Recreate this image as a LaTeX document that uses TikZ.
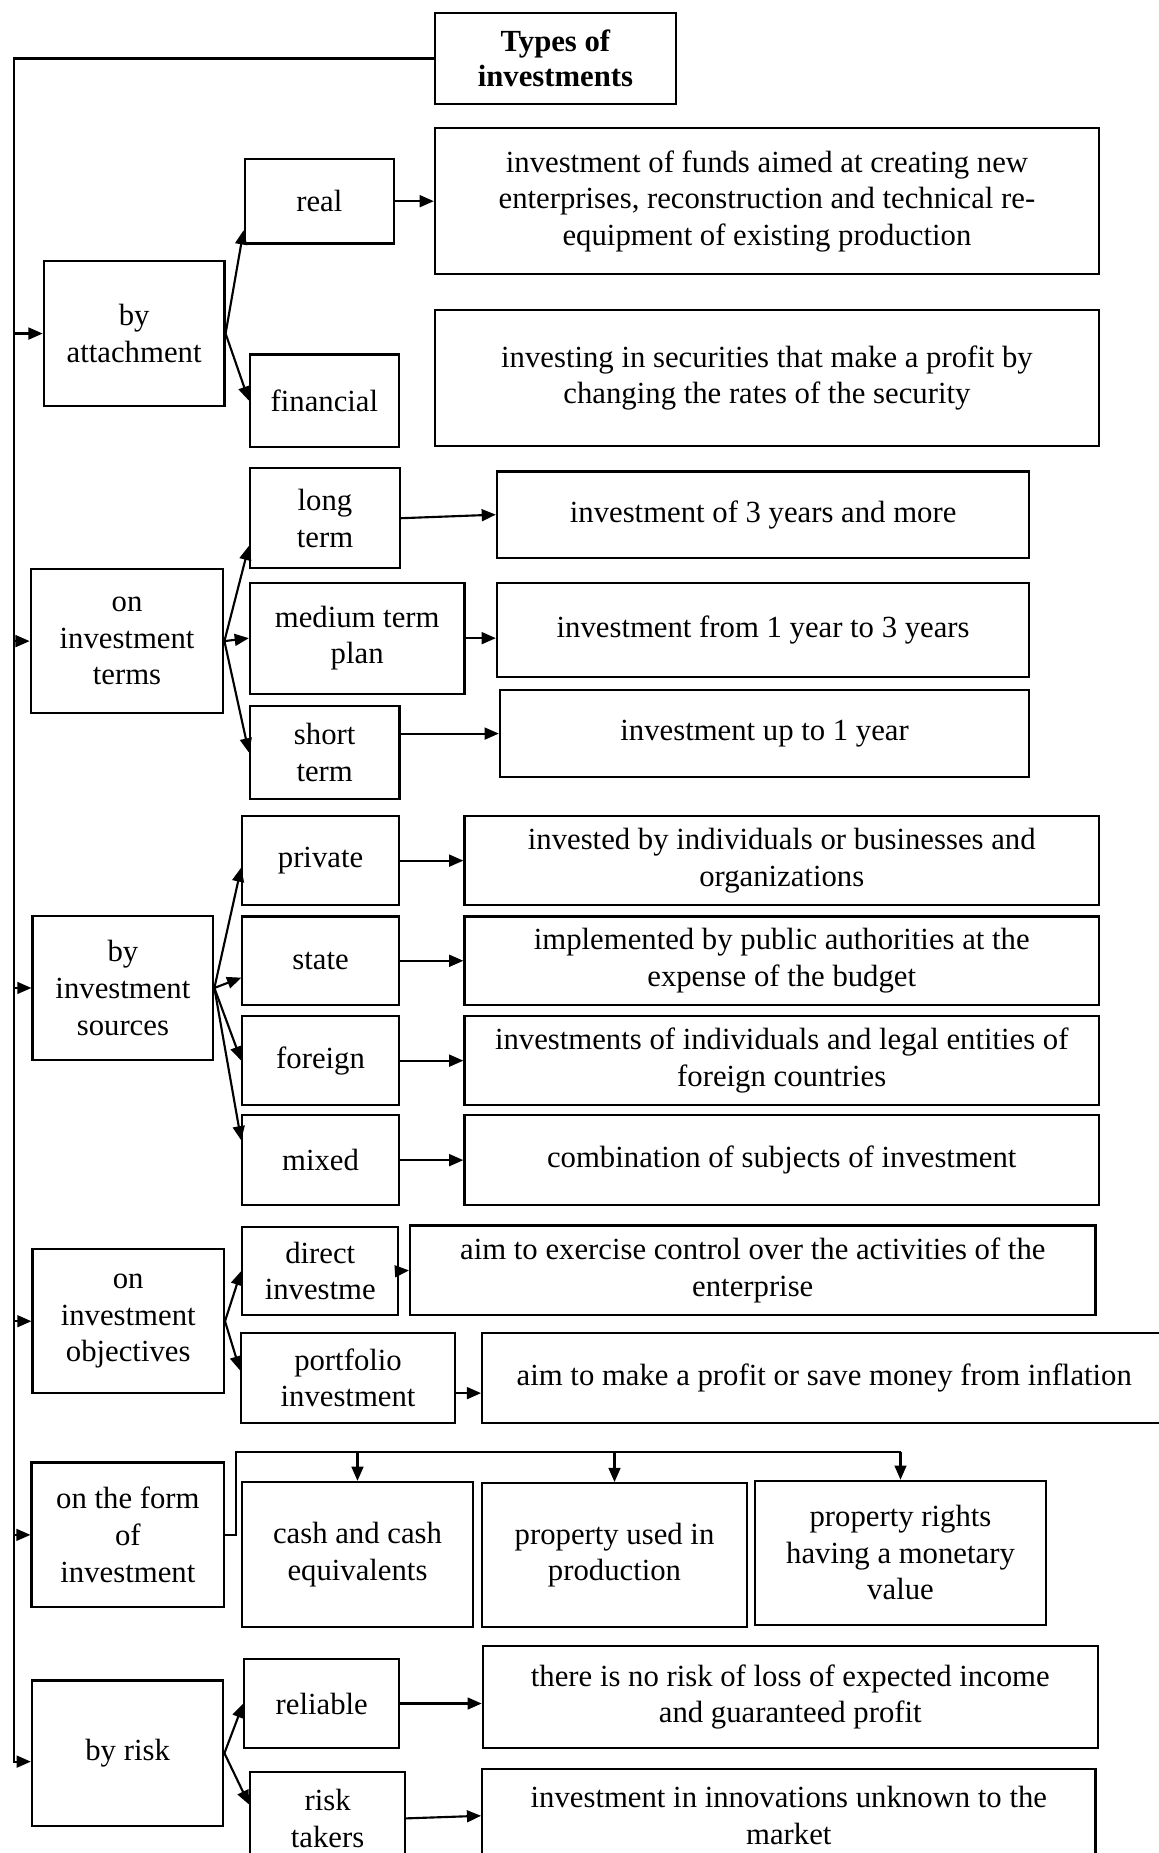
\documentclass[tikz,border=0pt]{standalone}
\usepackage{fontspec}
\setmainfont{Liberation Serif}
\usetikzlibrary{arrows.meta}

\begin{document}
\begin{tikzpicture}[x=1pt,y=-1pt,line width=1.8pt,>={Triangle[length=12pt,width=10pt]},
   box/.style={draw,align=center,inner sep=2pt,font=\fontsize{26}{31}\selectfont}]
   \useasboundingbox (0,0) rectangle (980,1568);
   \node[box,minimum width=204,minimum height=77,font=\fontsize{26}{30}\selectfont\bfseries] (title) at (470,49.5) {Types of\\investments};
   % by attachment
   \node[box,minimum width=153,minimum height=122.5] (att) at (113.5,282.25) {by\\attachment};
   \node[box,minimum width=126.5,minimum height=71.5] (real) at (270.25,170.25) {real};
   \node[box,minimum width=126,minimum height=78] (fin) at (274.5,339) {financial};
   \node[box,minimum width=562,minimum height=123.5] (dreal) at (649,170.25) {investment of funds aimed at creating new\\enterprises, reconstruction and technical re-\\equipment of existing production};
   \node[box,minimum width=562,minimum height=115.5] (dfin) at (649,319.75) {investing in securities that make a profit by\\changing the rates of the security};
   % on investment terms
   \node[box,minimum width=163,minimum height=122] (terms) at (107.5,542.5) {on\\investment\\terms};
   \node[box,minimum width=127,minimum height=85] (long) at (275,438.5) {long\\term};
   \node[box,minimum width=181.5,minimum height=94] (med) at (302.25,540) {medium term\\plan};
   \node[box,minimum width=126.5,minimum height=78.5] (short) at (274.75,636.75) {short\\term};
   \node[box,minimum width=450.5,minimum height=73] (dlong) at (645.75,435.5) {investment of 3 years and more};
   \node[box,minimum width=450.5,minimum height=79.5] (dmed) at (645.75,533.25) {investment from 1 year to 3 years};
   \node[box,minimum width=448,minimum height=73.5] (dshort) at (647,620.75) {investment up to 1 year};
   % by investment sources
   \node[box,minimum width=153,minimum height=122] (src) at (104,836) {by\\investment\\sources};
   \node[box,minimum width=132.5,minimum height=75.5] (priv) at (271.25,728.25) {private};
   \node[box,minimum width=132.5,minimum height=75] (state) at (271.25,813) {state};
   \node[box,minimum width=132.5,minimum height=75] (forgn) at (271.25,897.5) {foreign};
   \node[box,minimum width=132.5,minimum height=76] (mixed) at (271.25,981.7) {mixed};
   \node[box,minimum width=537,minimum height=75.5] (dpriv) at (661.5,728.25) {invested by individuals or businesses and\\organizations};
   \node[box,minimum width=537,minimum height=75] (dstate) at (661.5,813) {implemented by public authorities at the\\expense of the budget};
   \node[box,minimum width=537,minimum height=75] (dforgn) at (661.5,897.5) {investments of individuals and legal entities of\\foreign countries};
   \node[box,minimum width=537,minimum height=76] (dmixed) at (661.5,981.7) {combination of subjects of investment};
   % on investment objectives
   \node[box,minimum width=162,minimum height=122] (obj) at (108.5,1118) {on\\investment\\objectives};
   \node[box,minimum width=132,minimum height=75] (direct) at (271,1075.5) {direct\\investme};
   \node[box,minimum width=181,minimum height=76] (port) at (294.5,1166) {portfolio\\investment};
   \node[box,minimum width=580,minimum height=76] (ddirect) at (637,1075) {aim to exercise control over the activities of the\\enterprise};
   \node[box,minimum width=579,minimum height=76] (dport) at (697.5,1166) {aim to make a profit or save money from inflation};
   % on the form of investment
   \node[box,minimum width=163,minimum height=122.5] (form) at (108.2,1298.8) {on the form\\of\\investment};
   \node[box,minimum width=195,minimum height=123] (cash) at (302.5,1315.5) {cash and cash\\equivalents};
   \node[box,minimum width=224,minimum height=122] (used) at (520,1316) {property used in\\production};
   \node[box,minimum width=246,minimum height=122] (rights) at (762,1314) {property rights\\having a monetary\\value};
   % by risk
   \node[box,minimum width=162,minimum height=123] (risk) at (108,1483.5) {by risk};
   \node[box,minimum width=131,minimum height=75] (rel) at (272.25,1441.5) {reliable};
   \node[box,minimum width=131,minimum height=78.5] (takers) at (277.2,1538.7) {risk\\takers};
   \node[box,minimum width=520.5,minimum height=86.3] (drel) at (668.75,1435.85) {there is no risk of loss of expected income\\and guaranteed profit};
   \node[box,minimum width=519,minimum height=79] (dtakers) at (667.5,1536.5) {investment in innovations unknown to the\\market};

   \coordinate (spine) at (11.5,0);
   \coordinate (bus) at (200,1229);
   \draw[->] (title.west) -| (spine |- risk.185) -- (risk.185);
   \draw (form.east) -| (bus) -- (bus -| rights.north);
    \path[->]
    (spine |- att.west) edge (att.west)
    (spine |- terms.west) edge (terms.west)
    (spine |- src.west) edge (src.west)
    (spine |- obj.west) edge (obj.west)
    (spine |- form.west) edge (form.west)
    (att.east) edge (real.201)
               edge (fin.west)
    (real.east) edge (dreal.west)
    (terms.east) edge (long.200)
                 edge (med.west)
                 edge (short.west)
    (long.east) edge (dlong.west)
    (med.east) edge (med.east -| dmed.west)
    (dshort.west -| short.east) edge (dshort.west)
    (src.east) edge (priv.185)
               edge (state.192)
               edge (forgn.west)
               edge (mixed.166)
    (priv.east) edge (dpriv.west)
    (state.east) edge (dstate.west)
    (forgn.east) edge (dforgn.west)
    (mixed.east) edge (dmixed.west)
    (obj.east) edge (direct.west)
               edge (port.176)
    (direct.east) edge (ddirect.west)
    (port.-8) edge (port.-8 -| dport.west)
    (bus -| cash.north) edge (cash.north)
    (bus -| used.north) edge (used.north)
    (bus -| rights.north) edge (rights.north)
    (risk.east) edge (rel.west)
                edge (takers.170)
    (rel.east) edge (rel.east -| drel.west)
    (takers.east) edge (dtakers.west);
\end{tikzpicture}
\end{document}
